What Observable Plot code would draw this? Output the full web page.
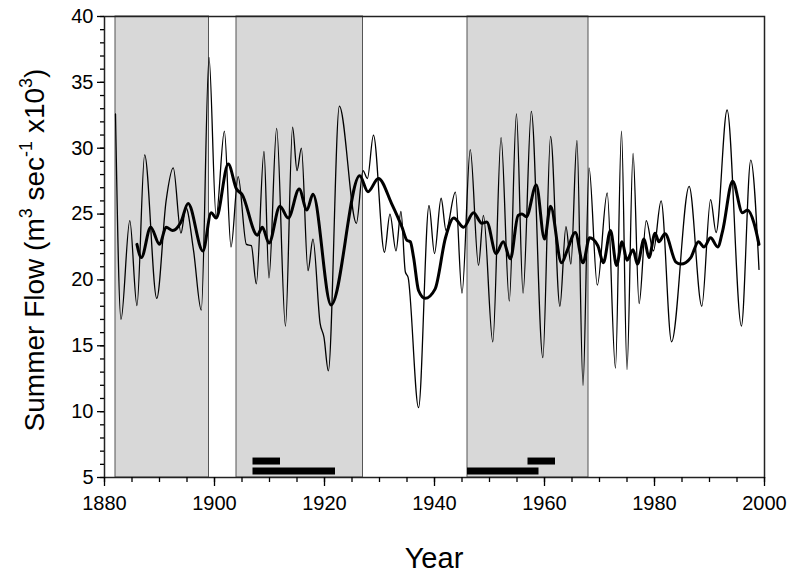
<!DOCTYPE html>
<html>
<head>
<meta charset="utf-8">
<script src="https://cdn.jsdelivr.net/npm/d3@7"></script>
<script src="https://cdn.jsdelivr.net/npm/@observablehq/plot@0.6"></script>
<style>
  html, body { margin: 0; padding: 0; background: #fff; }
</style>
</head>
<body>
<div id="chart"></div>
<script>
// Annual summer flow (thin line), read at its turning points
const thinYears = [1882, 1883, 1884.6, 1885.9, 1887.3, 1889.5, 1891.2, 1892.5, 1893.9, 1894.8, 1896.2, 1897.6, 1899.0, 1900.3, 1901.8, 1903.0,
  1904.3, 1905.8, 1906.7, 1907.6, 1909.0, 1909.9, 1911.3, 1912.9, 1914.2, 1915.0, 1915.8, 1917.0, 1917.9, 1919.2, 1919.9, 1920.7,
  1922.7, 1925.8, 1927.0, 1927.8, 1928.9, 1930.9, 1931.9, 1933.0, 1933.9, 1934.7, 1935.2, 1937.1, 1939.0, 1940.0, 1941.2, 1942.1,
  1943.8, 1945.0, 1946.5, 1948.0, 1948.9, 1950.6, 1952.1, 1953.6, 1954.9, 1956.1, 1957.6, 1959.7, 1961.1, 1962.8, 1963.9, 1964.8,
  1965.9, 1967.0, 1968.1, 1969.6, 1971.4, 1972.9, 1974.0, 1975.0, 1976.1, 1977.2, 1978.5, 1979.8, 1981.2, 1983.1, 1986.3, 1988.6,
  1990.2, 1991.2, 1993.2, 1995.8, 1997.5, 1999.0];
const thinFlow = [32.6, 17.0, 24.5, 18.05, 29.5, 18.6, 26.0, 28.5, 23.55, 25.5, 22.2, 17.7, 36.9, 24.8, 31.3, 22.5,
  27.85, 22.7, 22.6, 19.7, 29.75, 20.15, 31.5, 16.5, 31.6, 28.3, 30.0, 20.7, 23.1, 16.7, 15.65, 13.1,
  33.2, 24.3, 28.3, 27.7, 31.0, 22.1, 25.0, 22.2, 25.2, 20.6, 20.2, 10.3, 25.65, 22.0, 26.2, 23.75,
  26.66, 19.0, 29.9, 21.1, 24.9, 15.3, 30.8, 18.4, 32.6, 19.0, 32.8, 14.1, 30.9, 18.0, 24.05, 21.2,
  30.6, 12.0, 28.5, 19.6, 26.6, 13.3, 31.3, 13.2, 29.6, 18.2, 24.5, 22.2, 26.0, 15.3, 27.1, 18.0,
  26.1, 23.6, 32.9, 16.5, 29.1, 20.8];

// Smoothed flow (thick line)
const smoothYears = [1885.9, 1886.7, 1888.4, 1890.0, 1891.2, 1892.4, 1893.9, 1895.2, 1897.9, 1899.4, 1900.3, 1902.5, 1904.0, 1905.0,
  1907.8, 1908.7, 1909.9, 1911.9, 1913.4, 1915.4, 1916.8, 1917.9, 1921.2, 1926.4, 1927.9, 1929.8, 1932.2, 1934.1, 1935.0, 1935.6,
  1936.2, 1937.1, 1938.3, 1940.1, 1942.0, 1943.5, 1945.3, 1947.1, 1948.6, 1949.5, 1951.2, 1952.5, 1953.8, 1955.2, 1955.9, 1956.7,
  1958.5, 1960.0, 1961.1, 1963.1, 1964.1, 1965.6, 1967.0, 1968.2, 1969.7, 1970.7, 1972.0, 1973.1, 1974.1, 1975.0, 1976.1, 1976.9,
  1978.1, 1979.0, 1980.1, 1980.8, 1981.9, 1983.9, 1984.8, 1986.6, 1988.0, 1989.0, 1990.2, 1991.5, 1992.4, 1994.2, 1996.0, 1996.9,
  1998.1, 1999.0];
const smoothFlow = [22.7, 21.7, 24.0, 22.7, 24.0, 23.75, 24.4, 25.8, 22.2, 25.1, 24.7, 28.8, 26.9, 26.5,
  23.4, 24.0, 22.8, 25.6, 24.7, 26.9, 25.3, 26.5, 18.1, 27.9, 26.7, 27.7, 25.8, 24.0, 23.0, 22.9,
  21.7, 19.2, 18.6, 19.3, 23.2, 24.7, 24.0, 25.1, 24.3, 24.4, 22.0, 22.9, 21.6, 24.9, 25.0, 24.8,
  27.2, 23.1, 25.6, 21.3, 22.2, 23.6, 21.3, 23.2, 22.6, 21.3, 23.75, 21.1, 22.9, 21.5, 22.3, 21.2,
  23.1, 21.7, 23.55, 22.9, 23.5, 21.35, 21.2, 21.7, 22.9, 22.5, 23.2, 22.5, 23.75, 27.5, 25.1, 25.3,
  24.3, 22.7];

// Shaded periods
const shadeStart = [1882, 1904, 1946];
const shadeEnd = [1899, 1927, 1968];

// Black bars near the bottom
const barStart = [1907, 1907, 1946, 1957];
const barEnd = [1912, 1922, 1959, 1962];
const barLevel = [6.25, 5.5, 5.5, 6.25];

// Ticks
const xMajor = [1880, 1900, 1920, 1940, 1960, 1980, 2000];
const xMinor = d3.range(1880, 2001, 5);
const yMajor = [5, 10, 15, 20, 25, 30, 35, 40];
const yMinor = d3.range(5, 41, 1);

const thin = thinYears.map((x, i) => ({x, y: thinFlow[i]}));
const smooth = smoothYears.map((x, i) => ({x, y: smoothFlow[i]}));
const shades = shadeStart.map((s, i) => ({x1: s, x2: shadeEnd[i]}));
const bars = barStart.map((s, i) => ({x1: s, x2: barEnd[i], y: barLevel[i]}));

const font = "'Liberation Sans', Arial, Helvetica, sans-serif";

const plot = Plot.plot({
  width: 800,
  height: 577,
  marginLeft: 104,
  marginRight: 36,
  marginTop: 16,
  marginBottom: 100,
  style: {fontFamily: font, fontSize: "20px", color: "black", background: "white", overflow: "visible"},
  x: {domain: [1880, 2000]},
  y: {domain: [5, 40]},
  marks: [
    Plot.rect(shades, {x1: "x1", x2: "x2", y1: 5, y2: 40, fill: "#d8d8d8", stroke: "#555", strokeWidth: 1}),
    Plot.ruleY(bars, {x1: "x1", x2: "x2", y: "y", stroke: "black", strokeWidth: 7}),
    Plot.line(thin, {x: "x", y: "y", curve: "monotone-x", stroke: "black", strokeWidth: 1.3}),
    Plot.line(smooth, {x: "x", y: "y", curve: "monotone-x", stroke: "black", strokeWidth: 3}),
    Plot.frame({stroke: "#222", strokeWidth: 1.5}),
    Plot.axisX(xMinor, {tickSize: 5, tickFormat: () => "", label: null, strokeWidth: 1.3}),
    Plot.axisX(xMajor, {tickSize: 9, tickPadding: 9, tickFormat: d => String(d), label: null, strokeWidth: 1.3}),
    Plot.axisY(yMinor, {tickSize: 4, tickFormat: () => "", label: null, strokeWidth: 1.3}),
    Plot.axisY(yMajor, {tickSize: 7, tickPadding: 4, tickFormat: d => String(d), label: null, strokeWidth: 1.3})
  ]
});

const svg = d3.select(plot);
// X axis title
svg.append("text")
  .attr("x", 434).attr("y", 568)
  .attr("text-anchor", "middle")
  .style("font-family", font).style("font-size", "29px").attr("fill", "black")
  .text("Year");

// Y axis title with superscripts
const yt = svg.append("text")
  .attr("transform", "translate(44,250) rotate(-90)")
  .attr("text-anchor", "middle")
  .style("font-family", font).style("font-size", "28px").attr("fill", "black");
yt.append("tspan").text("Summer Flow (m");
yt.append("tspan").attr("dy", -12).style("font-size", "18px").text("3");
yt.append("tspan").attr("dy", 12).text(" sec");
yt.append("tspan").attr("dy", -12).style("font-size", "18px").text("-1");
yt.append("tspan").attr("dy", 12).text(" x10");
yt.append("tspan").attr("dy", -12).style("font-size", "18px").text("3");
yt.append("tspan").attr("dy", 12).text(")");

document.getElementById("chart").appendChild(plot);
</script>
</body>
</html>
